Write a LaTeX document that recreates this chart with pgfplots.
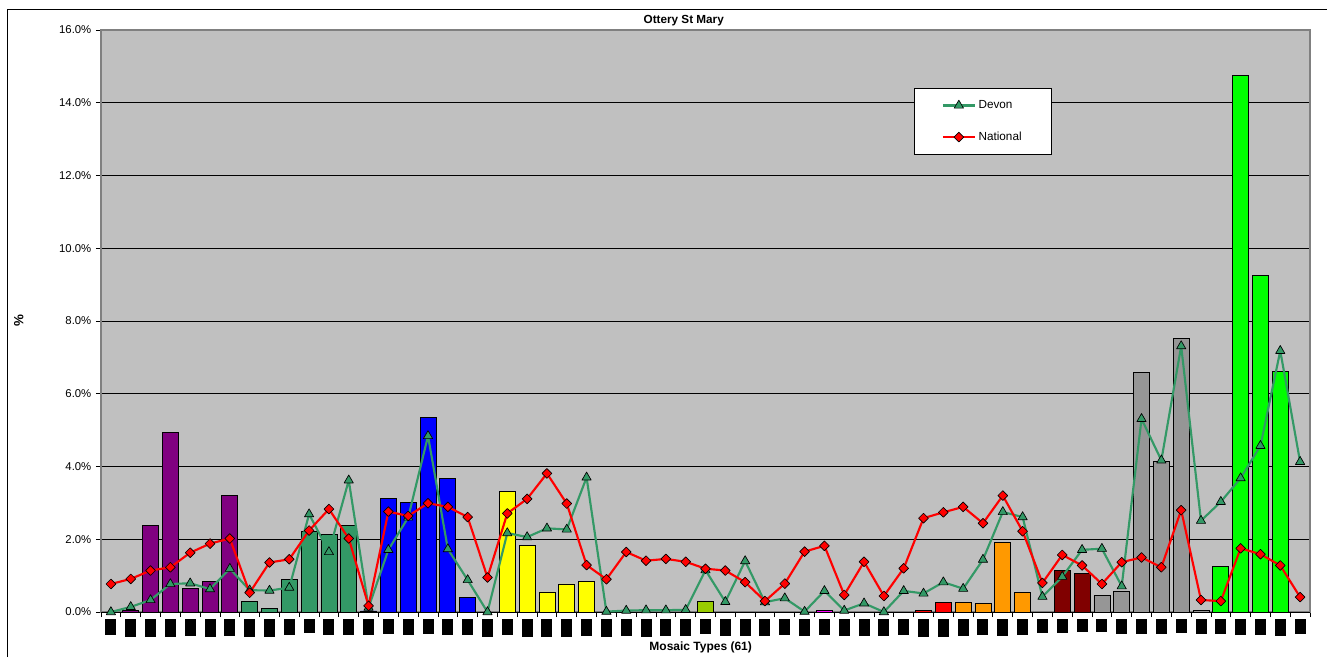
\documentclass[border=0pt]{standalone}
\usepackage{pgfplots}
\pgfplotsset{compat=1.18}
\usepackage{fontspec}
\setmainfont{Liberation Sans}
\definecolor{bg}{HTML}{C0C0C0}
\definecolor{devon}{HTML}{339966}
\definecolor{cpurple}{HTML}{800080}
\definecolor{cseagreen}{HTML}{339966}
\definecolor{cblue}{HTML}{0000FF}
\definecolor{cyellow}{HTML}{FFFF00}
\definecolor{cyg}{HTML}{99CC00}
\definecolor{cmag}{HTML}{FF00FF}
\definecolor{cred}{HTML}{FF0000}
\definecolor{corange}{HTML}{FF9900}
\definecolor{cdred}{HTML}{800000}
\definecolor{cgray}{HTML}{969696}
\definecolor{cgreen}{HTML}{00FF00}
\definecolor{border}{HTML}{808080}
\newcommand\R[1]{\rule{8.25pt}{#1pt}}

\pgfplotstableread{
x y
0 0.00
1 0.14
2 0.33
3 0.77
4 0.79
5 0.63
6 1.19
7 0.60
8 0.59
9 0.67
10 2.69
11 1.65
12 3.62
13 0.12
14 1.71
15 2.60
16 4.84
17 1.73
18 0.88
19 0.00
20 2.17
21 2.06
22 2.30
23 2.27
24 3.70
25 0.01
26 0.04
27 0.05
28 0.05
29 0.06
30 1.15
31 0.28
32 1.40
33 0.27
34 0.38
35 0.01
36 0.58
37 0.04
38 0.24
39 0.00
40 0.58
41 0.51
42 0.82
43 0.64
44 1.44
45 2.75
46 2.61
47 0.42
48 0.97
49 1.71
50 1.74
51 0.71
52 5.31
53 4.17
54 7.31
55 2.51
56 3.03
57 3.68
58 4.57
59 7.18
60 4.13
}\devon

\pgfplotstableread{
x y
0 0.77
1 0.91
2 1.14
3 1.23
4 1.63
5 1.88
6 2.02
7 0.53
8 1.36
9 1.45
10 2.24
11 2.83
12 2.02
13 0.17
14 2.76
15 2.64
16 2.99
17 2.89
18 2.61
19 0.95
20 2.71
21 3.11
22 3.81
23 2.98
24 1.29
25 0.90
26 1.65
27 1.41
28 1.46
29 1.38
30 1.19
31 1.14
32 0.82
33 0.30
34 0.78
35 1.66
36 1.82
37 0.47
38 1.38
39 0.44
40 1.20
41 2.58
42 2.74
43 2.89
44 2.44
45 3.20
46 2.22
47 0.80
48 1.57
49 1.28
50 0.77
51 1.37
52 1.50
53 1.23
54 2.80
55 0.33
56 0.30
57 1.75
58 1.59
59 1.28
60 0.41
}\national

\begin{document}
\begin{tikzpicture}
\useasboundingbox (0pt,0pt) rectangle (995.25pt,492.75pt);
\draw[black, line width=0.75pt] (5.25pt,0pt) -- (5.25pt,485.25pt) -- (995.25pt,485.25pt);
\begin{axis}[
  at={(75.75pt,33.75pt)}, anchor=south west,
  scale only axis, width=906.75pt, height=436.5pt,
  xmin=-0.5, xmax=60.5, ymin=0, ymax=16,
  clip=false,
  axis background/.style={fill=bg},
  axis line style={draw=border, line width=1.2pt},
  ytick={0,2,...,16},
  yticklabel={\pgfmathprintnumber[fixed,fixed zerofill,precision=1]{\tick}\%},
  /pgf/number format/assume math mode=true,
  ymajorgrids, major grid style={black, line width=0.7pt},
  tick align=outside, major tick length=3.75pt,
  tick style={black, line width=0.6pt},
  ytick pos=left, xtick pos=bottom,
  xtick={-0.5,0.5,...,60.5}, xticklabels={},
  extra x ticks={0,1,...,60},
  extra x tick style={major tick length=0pt, tick label style={anchor=north, inner sep=0pt, yshift=-5.25pt}},
  extra x tick labels={\R{11.7},\R{13},\R{13},\R{13},\R{12.2},\R{13},\R{12.2},\R{13},\R{13},\R{11.5},
    \R{10},\R{11.5},\R{11.5},\R{11.5},\R{10.7},\R{11.5},\R{10.7},\R{11.5},\R{11.5},\R{13},
    \R{11.5},\R{13},\R{13},\R{13},\R{12.2},\R{13},\R{12.2},\R{13},\R{12.2},\R{12.2},
    \R{10.7},\R{12.2},\R{12.2},\R{12.2},\R{11.5},\R{12.2},\R{11.5},\R{12.2},\R{12.2},\R{12.5},
    \R{11.5},\R{13.3},\R{13.3},\R{12.5},\R{11.5},\R{12.5},\R{11.5},\R{10},\R{10},\R{9.5},
    \R{9.5},\R{10.7},\R{10.7},\R{10.7},\R{10},\R{10.7},\R{10.7},\R{11.5},\R{11.5},\R{12.5},\R{10.7}},
  tick label style={font=\fontsize{8.5}{10}\selectfont},
  title={\bfseries Ottery St Mary},
  title style={at={(axis description cs:0.482,1.002)}, anchor=center, font=\fontsize{8.8}{10}\selectfont},
  xlabel={\bfseries Mosaic Types (61)},
  xlabel style={at={(axis description cs:0.496,-0.060)}, anchor=center, font=\fontsize{9}{10}\selectfont},
  ylabel={\bfseries\%},
  ylabel style={at={(axis description cs:-0.068,0.5)}, anchor=center, font=\fontsize{10}{10}\selectfont},
  legend style={at={(0.6725,0.9003)}, anchor=north west, draw=black, line width=0.6pt, fill=white,
    font=\fontsize{8.8}{10}\selectfont, inner xsep=20.5pt, inner ysep=7pt, row sep=12pt,
    cells={anchor=west}},
  legend image code/.code={\draw[#1, mark repeat=2, mark phase=2] plot coordinates {(0pt,0pt) (12pt,0pt) (24pt,0pt)};},
  every axis plot/.append style={bar width=12pt, bar shift=0pt},
]
\addplot[ybar, bar shift=0pt, fill=cpurple, draw=black, line width=0.6pt, forget plot] coordinates {(1,0.05) (2,2.37) (3,4.93) (4,0.65) (5,0.83) (6,3.20)};
\addplot[ybar, bar shift=0pt, fill=cseagreen, draw=black, line width=0.6pt, forget plot] coordinates {(7,0.30) (8,0.11) (9,0.90) (10,2.21) (11,2.12) (12,2.39)};
\addplot[ybar, bar shift=0pt, fill=cblue, draw=black, line width=0.6pt, forget plot] coordinates {(13,0.03) (14,3.13) (15,3.01) (16,5.35) (17,3.68) (18,0.40)};
\addplot[ybar, bar shift=0pt, fill=cyellow, draw=black, line width=0.6pt, forget plot] coordinates {(20,3.32) (21,1.82) (22,0.55) (23,0.77) (24,0.83)};
\addplot[ybar, bar shift=0pt, fill=cyg, draw=black, line width=0.6pt, forget plot] coordinates {(30,0.30)};
\addplot[ybar, bar shift=0pt, fill=cmag, draw=black, line width=0.6pt, forget plot] coordinates {(36,0.05)};
\addplot[ybar, bar shift=0pt, fill=cred, draw=black, line width=0.6pt, forget plot] coordinates {(41,0.04) (42,0.27)};
\addplot[ybar, bar shift=0pt, fill=corange, draw=black, line width=0.6pt, forget plot] coordinates {(43,0.27) (44,0.23) (45,1.92) (46,0.54)};
\addplot[ybar, bar shift=0pt, fill=cdred, draw=black, line width=0.6pt, forget plot] coordinates {(48,1.13) (49,1.06)};
\addplot[ybar, bar shift=0pt, fill=cgray, draw=black, line width=0.6pt, forget plot] coordinates {(50,0.46) (51,0.58) (52,6.58) (53,4.14) (54,7.53) (55,0.05)};
\addplot[ybar, bar shift=0pt, fill=cgreen, draw=black, line width=0.6pt, forget plot] coordinates {(56,1.26) (57,14.74) (58,9.24) (59,6.62)};
\draw[black, line width=0.7pt] (rel axis cs:0,0) -- (rel axis cs:1,0);
\addplot[devon, line width=1.6pt, line join=round, mark=triangle*, mark size=4pt,
  mark options={fill=devon, draw=black, line width=0.5pt}] table[x=x,y=y] {\devon};
\addlegendentry{Devon}
\addplot[red, line width=1.6pt, line join=round, mark=square*, mark size=2.6pt,
  mark options={fill=red, draw=black, line width=0.5pt, rotate=45}] table[x=x,y=y] {\national};
\addlegendentry{National}
\end{axis}
\end{tikzpicture}
\end{document}
